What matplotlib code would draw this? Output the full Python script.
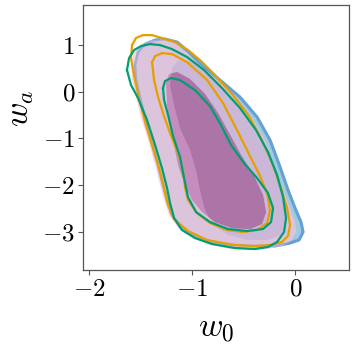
import matplotlib
matplotlib.use("Agg")
import matplotlib.pyplot as plt
from matplotlib.patches import Polygon
from matplotlib.ticker import FuncFormatter

plt.rcParams['mathtext.fontset'] = 'cm'
plt.rcParams['font.family'] = ['DejaVu Serif']

# ---- contour outlines (w0, wa) ----
blue2_w0 = [-1.553, -1.524, -1.456, -1.359, -1.263, -1.146, -1.020, -0.923, -0.730, -0.536,
            -0.371, -0.245, -0.148, -0.071, -0.003, 0.055, 0.075, 0.036, -0.051, -0.197,
            -0.391, -0.584, -0.807, -0.972, -1.108, -1.195, -1.243, -1.282, -1.330, -1.398,
            -1.456, -1.505, -1.544]
blue2_wa = [0.572, 0.851, 1.022, 1.108, 1.130, 1.065, 0.829, 0.615, 0.251, -0.114,
            -0.542, -1.035, -1.613, -2.106, -2.492, -2.792, -3.006, -3.177, -3.241, -3.306,
            -3.306, -3.284, -3.220, -3.092, -2.921, -2.642, -2.321, -1.999, -1.571, -1.035,
            -0.564, -0.114, 0.251]

pink2_w0 = [-1.592, -1.563, -1.495, -1.398, -1.292, -1.175, -1.059, -0.953, -0.759, -0.575,
            -0.420, -0.294, -0.197, -0.119, -0.051, -0.003, 0.007, -0.032, -0.129, -0.265,
            -0.439, -0.633, -0.827, -0.991, -1.127, -1.224, -1.272, -1.311, -1.359, -1.427,
            -1.495, -1.544, -1.582]
pink2_wa = [0.572, 0.851, 1.022, 1.108, 1.130, 1.065, 0.851, 0.615, 0.251, -0.135,
            -0.564, -1.035, -1.613, -2.106, -2.492, -2.792, -3.006, -3.177, -3.306, -3.370,
            -3.392, -3.370, -3.284, -3.135, -2.942, -2.642, -2.321, -1.999, -1.571, -1.035,
            -0.564, -0.114, 0.251]

blue1_w0 = [-1.195, -1.137, -1.020, -0.875, -0.710, -0.536, -0.391, -0.265, -0.158, -0.090,
            -0.080, -0.139, -0.274, -0.458, -0.652, -0.797, -0.875, -0.924, -0.962, -1.020,
            -1.117, -1.175, -1.214]
blue1_wa = [0.508, 0.679, 0.658, 0.444, 0.058, -0.392, -0.842, -1.356, -1.892, -2.385,
            -2.792, -3.070, -3.177, -3.177, -3.070, -2.856, -2.535, -2.106, -1.678, -1.249,
            -0.778, -0.285, 0.144]

pink1_w0 = [-1.253, -1.224, -1.146, -1.020, -0.875, -0.749, -0.642, -0.526, -0.400, -0.313,
            -0.284, -0.323, -0.439, -0.613, -0.778, -0.904, -1.001, -1.069, -1.137, -1.175,
            -1.214, -1.243]
pink1_wa = [0.208, 0.379, 0.422, 0.272, -0.049, -0.456, -0.885, -1.356, -1.806, -2.213,
            -2.578, -2.835, -2.942, -2.920, -2.792, -2.578, -2.321, -1.999, -1.571, -1.142,
            -0.714, -0.285]

orange2_w0 = [-1.582, -1.544, -1.476, -1.388, -1.292, -1.166, -1.040, -0.923, -0.788, -0.613,
              -0.449, -0.323, -0.216, -0.139, -0.080, -0.051, -0.071, -0.129, -0.245, -0.410,
              -0.603, -0.855, -1.040, -1.175, -1.233, -1.272, -1.321, -1.388, -1.456, -1.515,
              -1.563, -1.592]
orange2_wa = [1.001, 1.151, 1.215, 1.215, 1.151, 1.065, 0.894, 0.679, 0.379, -0.049,
              -0.521, -1.035, -1.571, -2.063, -2.492, -2.856, -3.092, -3.220, -3.284, -3.306,
              -3.284, -3.177, -2.985, -2.728, -2.428, -2.063, -1.635, -1.142, -0.649, -0.135,
              0.358, 0.722]

green2_w0 = [-1.631, -1.611, -1.563, -1.495, -1.408, -1.311, -1.195, -1.049, -0.884, -0.710,
             -0.536, -0.381, -0.265, -0.177, -0.119, -0.090, -0.109, -0.177, -0.265, -0.391,
             -0.584, -0.807, -0.972, -1.098, -1.175, -1.214, -1.243, -1.292, -1.359, -1.437,
             -1.524, -1.592]
green2_wa = [0.465, 0.722, 0.894, 0.979, 1.022, 1.001, 0.915, 0.744, 0.465, 0.079,
             -0.349, -0.821, -1.292, -1.785, -2.256, -2.706, -3.006, -3.220, -3.327, -3.370,
             -3.349, -3.263, -3.135, -2.963, -2.706, -2.385, -2.063, -1.635, -1.142, -0.606,
             -0.135, 0.144]

orange1_w0 = [-1.388, -1.359, -1.292, -1.195, -1.049, -0.855, -0.701, -0.565, -0.439, -0.342,
              -0.274, -0.245, -0.274, -0.371, -0.507, -0.662, -0.827, -0.953, -1.040, -1.069,
              -1.088, -1.137, -1.214, -1.282, -1.330, -1.369]
orange1_wa = [0.636, 0.765, 0.829, 0.808, 0.636, 0.251, -0.242, -0.821, -1.378, -1.806,
              -2.171, -2.535, -2.813, -2.963, -3.006, -2.963, -2.813, -2.599, -2.321, -2.042,
              -1.678, -1.313, -0.885, -0.456, -0.114, 0.251]

green1_w0 = [-1.282, -1.263, -1.204, -1.117, -0.972, -0.827, -0.720, -0.623, -0.497, -0.371,
             -0.265, -0.216, -0.235, -0.313, -0.468, -0.652, -0.827, -0.962, -1.040, -1.078,
             -1.117, -1.185, -1.233, -1.272]
green1_wa = [0.079, 0.229, 0.294, 0.251, 0.036, -0.306, -0.714, -1.142, -1.528, -1.849,
             -2.171, -2.492, -2.792, -2.942, -2.985, -2.942, -2.792, -2.578, -2.256, -1.849,
             -1.399, -0.949, -0.499, -0.178]

xticks = [-2, -1, 0]
yticks = [-3, -2, -1, 0, 1]
xlim = (-2.06, 0.52)
ylim = (-3.82, 1.86)

fig = plt.figure(figsize=(3.57, 3.54), dpi=100)
ax = fig.add_axes([0.2317, 0.2373, 0.7459, 0.7486])

def poly(w0, wa, **kw):
    p = Polygon(list(zip(w0, wa)), closed=True, **kw)
    ax.add_patch(p)
    return p

poly(blue2_w0, blue2_wa, facecolor='#a0c9e2', edgecolor='#62a3d4', lw=2.2, joinstyle='round', zorder=1)
poly(pink2_w0, pink2_wa, facecolor='#f6c3dc', edgecolor='none', alpha=0.7, zorder=2)
poly(blue2_w0, blue2_wa, facecolor='none', edgecolor='#6f9fd6', lw=1.6, alpha=0.45,
     joinstyle='round', zorder=2.5)
poly(blue1_w0, blue1_wa, facecolor='#cbb8d8', edgecolor='none', zorder=3)
p1 = poly(pink1_w0, pink1_wa, facecolor='#c68cbd', edgecolor='none', zorder=4)
pd = poly(blue1_w0, blue1_wa, facecolor='#ad74a7', edgecolor='none', zorder=5)
pd.set_clip_path(p1)

for w0, wa, c in [(orange2_w0, orange2_wa, '#e69f00'), (orange1_w0, orange1_wa, '#e69f00'),
                  (green2_w0, green2_wa, '#009e73'), (green1_w0, green1_wa, '#009e73')]:
    ax.plot(w0 + w0[:1], wa + wa[:1], color=c, lw=1.6, solid_joinstyle='round', zorder=6)

ax.set_xlim(*xlim)
ax.set_ylim(*ylim)
ax.set_xticks(xticks)
ax.set_yticks(yticks)
fmt = FuncFormatter(lambda v, pos: r'$%d$' % round(v))
ax.xaxis.set_major_formatter(fmt)
ax.yaxis.set_major_formatter(fmt)
ax.tick_params(labelsize=18, length=3.5, width=0.8, color='#555555', direction='out', pad=2)
for s in ax.spines.values():
    s.set_color('#555555')
    s.set_linewidth(0.9)

ax.set_xlabel(r'$w_0$', fontsize=24, labelpad=8)
ax.set_ylabel(r'$w_a$', fontsize=24)
ax.yaxis.set_label_coords(-0.175, 0.61)

fig.savefig('out.png', dpi=100)
